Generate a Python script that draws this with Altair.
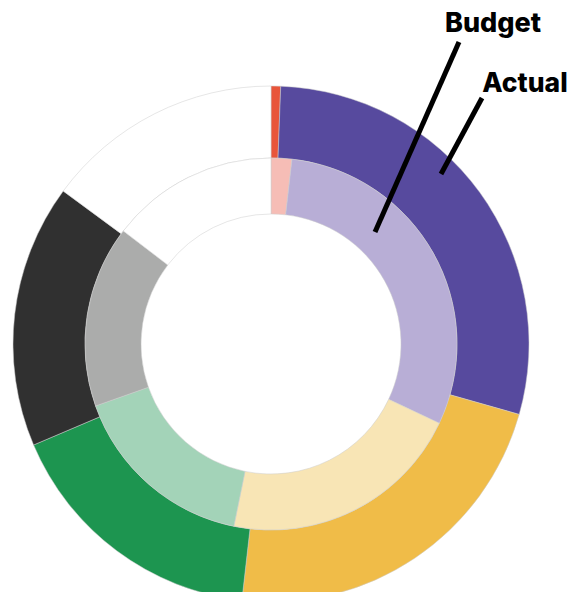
import altair as alt
import pandas as pd

categories = ["Cat A", "Cat B", "Cat C", "Cat D", "Cat E", "Other"]
actual = [0.6, 28.8, 22.4, 16.8, 16.5, 14.9]
budget = [1.8, 30.2, 21.2, 16.4, 15.8, 14.6]
actual_colors = ["#E8553A", "#574A9E", "#F0BC48", "#1D9550", "#303030", "#FFFFFF"]
budget_colors = ["#F6BDB6", "#B8AED6", "#F8E5B5", "#A3D3B8", "#ABACAB", "#FFFFFF"]

df_a = pd.DataFrame({"cat": categories, "value": actual, "color": actual_colors, "order": range(6)})
df_b = pd.DataFrame({"cat": categories, "value": budget, "color": budget_colors, "order": range(6)})

CX, CY = 263, 336

outer = alt.Chart(df_a).mark_arc(
    radius=258, radius2=186, stroke="#cccccc", strokeWidth=0.5
).encode(
    theta=alt.Theta("value:Q", stack=True),
    order=alt.Order("order:Q"),
    color=alt.Color("color:N", scale=None),
    x=alt.value(CX), y=alt.value(CY),
)

inner = alt.Chart(df_b).mark_arc(
    radius=186, radius2=130, stroke="#cccccc", strokeWidth=0.5
).encode(
    theta=alt.Theta("value:Q", stack=True),
    order=alt.Order("order:Q"),
    color=alt.Color("color:N", scale=None),
    x=alt.value(CX), y=alt.value(CY),
)

ann = pd.DataFrame({"label": ["Budget", "Actual"]})

line_budget = alt.Chart(ann).transform_filter(alt.datum.label == "Budget").mark_rule(
    color="black", strokeWidth=5, strokeCap="butt"
).encode(x=alt.value(451), y=alt.value(34), x2=alt.value(367), y2=alt.value(224))

line_actual = alt.Chart(ann).transform_filter(alt.datum.label == "Actual").mark_rule(
    color="black", strokeWidth=5, strokeCap="butt"
).encode(x=alt.value(474), y=alt.value(90), x2=alt.value(433), y2=alt.value(166))

txt_budget = alt.Chart(ann).transform_filter(alt.datum.label == "Budget").mark_text(
    font="Inter", fontWeight=800, fontSize=27, align="center", baseline="alphabetic", color="black"
).encode(text="label:N", x=alt.value(485), y=alt.value(24))

txt_actual = alt.Chart(ann).transform_filter(alt.datum.label == "Actual").mark_text(
    font="Inter", fontWeight=800, fontSize=26.5, align="center", baseline="alphabetic", color="black"
).encode(text="label:N", x=alt.value(517), y=alt.value(84))

chart = alt.layer(outer, inner, line_budget, line_actual, txt_budget, txt_actual).properties(
    width=561, height=584, padding=0, autosize=alt.AutoSizeParams(type="none")
).configure_view(stroke=None)

chart.save("out.html", embed_options={"renderer": "svg", "actions": False})
